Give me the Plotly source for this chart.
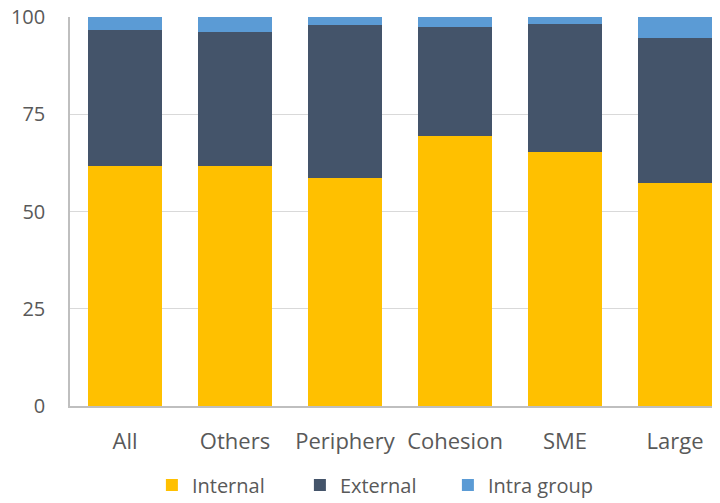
import plotly.graph_objects as go

categories = ['All', 'Others', 'Periphery', 'Cohesion', 'SME', 'Large']
internal = [61.6, 61.6, 58.5, 69.5, 65.3, 57.2]
external = [35.1, 34.5, 39.4, 28.0, 33.0, 37.5]
intra_group = [3.3, 3.9, 2.1, 2.5, 1.7, 5.3]

colors = {'Internal': '#FFC000', 'External': '#44546A', 'Intra group': '#5B9BD5'}
font_family = 'Open Sans, sans-serif'

fig = go.Figure()
for name, vals in [('Internal', internal), ('External', external), ('Intra group', intra_group)]:
    fig.add_trace(go.Bar(x=categories, y=vals, name=name, marker_color=colors[name],
                         marker_line_width=0))

# page body has an 8px margin, so the figure is a bit smaller than the window
fig.update_layout(
    barmode='stack',
    bargap=0.32,
    width=712, height=495,
    margin=dict(l=62, r=0, t=9, b=97, autoexpand=False),
    plot_bgcolor='white', paper_bgcolor='white',
    font=dict(family=font_family, size=20, color='#595959'),
    showlegend=True,
    legend=dict(orientation='h', x=0.126, xanchor='left', y=-0.203, yanchor='middle',
                font=dict(size=20, color='#595959'), traceorder='normal',
                itemwidth=30, entrywidth=103),
)
fig.update_xaxes(range=[-0.5, 5.409], showline=True, linecolor='#BFBFBF', linewidth=1.5,
                 ticks='outside', ticklen=15, tickcolor='rgba(0,0,0,0)',
                 tickfont=dict(size=22), automargin=False, ticklabeloverflow='allow')
fig.update_yaxes(range=[0, 100], tickvals=[0, 25, 50, 75, 100],
                 showgrid=True, gridcolor='#D9D9D9', gridwidth=1,
                 showline=True, linecolor='#BFBFBF', linewidth=1.5,
                 ticks='outside', ticklen=19, tickcolor='rgba(0,0,0,0)',
                 zeroline=False, tickfont=dict(size=20), automargin=False,
                 ticklabeloverflow='allow')

fig.write_html("out.html")
